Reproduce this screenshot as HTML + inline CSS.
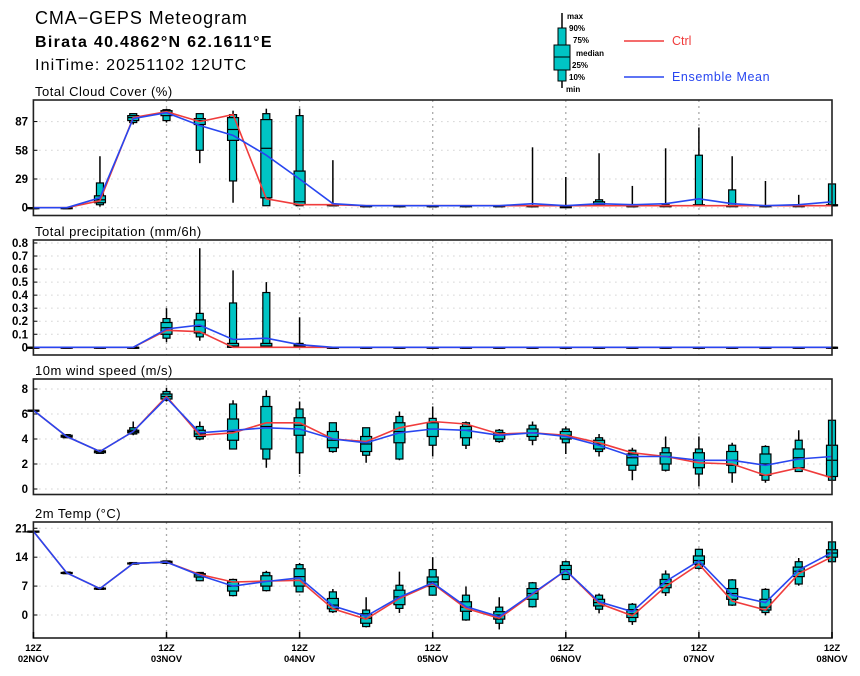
<!DOCTYPE html>
<html><head><meta charset="utf-8"><style>
html,body{margin:0;padding:0;background:#fff;}
svg{display:block;font-family:"Liberation Sans",sans-serif;}
.tk{font-size:11.5px;font-weight:bold;fill:#000;}
.pt{font-size:13px;fill:#000;letter-spacing:0.5px;}
</style></head><body>
<svg id="chart" width="860" height="676" viewBox="0 0 860 676">
<text x="35" y="24" font-size="18" letter-spacing="0.9">CMA−GEPS Meteogram</text>
<text x="35" y="47" font-size="16" font-weight="bold" letter-spacing="1.3">Birata 40.4862°N 62.1611°E</text>
<text x="35" y="70" font-size="16" letter-spacing="1.15">IniTime: 20251102 12UTC</text>
<g>
<line x1="562" y1="13" x2="562" y2="88" stroke="#000" stroke-width="1.5"/>
<rect x="558" y="28" width="8" height="53" fill="#00c4c4" stroke="#000"/>
<rect x="554" y="45" width="16" height="25" fill="#00c4c4" stroke="#000"/>
<line x1="554" y1="57" x2="570" y2="57" stroke="#000"/>
<g font-size="8" font-weight="bold">
<text x="567" y="19">max</text><text x="569" y="31">90%</text><text x="573" y="43">75%</text><text x="576" y="56">median</text><text x="572" y="68">25%</text><text x="569" y="80">10%</text><text x="566" y="92">min</text>
</g></g>
<g><line x1="624" y1="41" x2="664" y2="41" stroke="#f03c3c" stroke-width="1.5"/><text x="672" y="45" font-size="12.5" fill="#f03c3c">Ctrl</text></g>
<g><line x1="624" y1="77" x2="664" y2="77" stroke="#2846f0" stroke-width="1.5"/><text x="672" y="81" font-size="12.5" fill="#2846f0" letter-spacing="0.6">Ensemble Mean</text></g>
<g id="plots"></g>
</svg>
<script>
const dayLabels = ["02NOV","03NOV","04NOV","05NOV","06NOV","07NOV","08NOV"];

// Cloud cover (%)
const cloudMin = [0,0,1,84,86,45,5,2,2,2,2,2,2,2,2,2,1,2,2,2,2,2,2,2,2];
const cloudP10 = [0,0,3,86,88,58,27,2,2,2,2,2,2,2,2,2,1,2,2,2,2,2,2,2,2];
const cloudP25 = [0,0,5,88,93,84,68,10,3,2,2,2,2,2,2,2,1,2,2,2,2,2,2,2,2];
const cloudMed = [0,0,8,91,96,88,79,60,6,3,2,2,2,2,2,2,1,3,2,2,2,2,2,2,2];
const cloudP75 = [0,0,12,93,98,90,91,89,37,3,2,2,2,2,2,2,1,6,2,2,3,2,2,2,3];
const cloudP90 = [0,0,25,95,99,95,94,95,93,3,2,2,2,2,2,2,2,8,2,3,53,18,2,3,24];
const cloudMax = [0,0,52,95,100,95,98,100,100,48,2,2,2,2,2,61,31,55,22,60,81,52,27,13,24];
const cloudCtrl = [0,0,7,91,97,87,94,9,3,3,2,2,2,2,2,2,2,2,2,2,2,2,2,2,2];
const cloudMean = [0,0,10,90,96,83,73,53,29,4,2,2,2,2,2,4,2,4,3,4,9,4,2,3,6];
const cloudTicks = [0,29,58,87];

// Precipitation (mm/6h)
const prMin = [0,0,0,0,0.04,0.05,0,0,0,0,0,0,0,0,0,0,0,0,0,0,0,0,0,0,0];
const prP10 = [0,0,0,0,0.07,0.08,0,0,0,0,0,0,0,0,0,0,0,0,0,0,0,0,0,0,0];
const prP25 = [0,0,0,0,0.10,0.11,0,0,0,0,0,0,0,0,0,0,0,0,0,0,0,0,0,0,0];
const prMed = [0,0,0,0,0.15,0.16,0.01,0.01,0.01,0,0,0,0,0,0,0,0,0,0,0,0,0,0,0,0];
const prP75 = [0,0,0,0,0.19,0.21,0.03,0.03,0.02,0,0,0,0,0,0,0,0,0,0,0,0,0,0,0,0];
const prP90 = [0,0,0,0,0.22,0.26,0.34,0.42,0.03,0,0,0,0,0,0,0,0,0,0,0,0,0,0,0,0];
const prMax = [0,0,0,0,0.30,0.76,0.59,0.50,0.23,0,0,0,0,0,0,0,0,0,0,0,0,0,0,0,0];
const prCtrl = [0,0,0,0,0.13,0.12,0,0,0,0,0,0,0,0,0,0,0,0,0,0,0,0,0,0,0];
const prMean = [0,0,0,0,0.14,0.17,0.06,0.07,0.02,0,0,0,0,0,0,0,0,0,0,0,0,0,0,0,0];
const prTicks = [0,0.1,0.2,0.3,0.4,0.5,0.6,0.7,0.8];

// 10m wind speed (m/s)
const wMin = [6.3,4.1,2.85,4.3,7.0,3.9,3.2,1.7,1.2,2.9,2.1,2.3,2.6,3.2,3.7,3.5,2.8,2.6,0.7,1.4,0.2,0.5,0.5,1.4,0.7];
const wP10 = [6.3,4.1,2.85,4.4,7.1,4.0,3.2,2.4,2.9,3.0,2.7,2.4,3.5,3.5,3.8,3.9,3.7,3.0,1.5,1.5,1.2,1.3,0.7,1.4,0.7];
const wP25 = [6.3,4.15,2.9,4.5,7.2,4.2,3.9,3.2,4.3,3.3,3.0,3.7,4.2,4.1,4.0,4.2,4.0,3.2,1.9,2.0,1.7,1.9,1.1,1.7,1.0];
const wMed = [6.3,4.2,3.0,4.6,7.4,4.4,4.6,5.0,5.1,3.9,3.6,4.6,4.8,4.7,4.3,4.5,4.3,3.6,2.5,2.6,2.3,2.3,2.0,2.5,2.3];
const wP75 = [6.3,4.3,3.05,4.7,7.6,4.7,5.6,6.6,5.7,4.6,4.2,5.3,5.3,5.0,4.5,4.8,4.6,3.9,2.8,2.9,2.9,3.0,2.8,3.2,3.5];
const wP90 = [6.3,4.35,3.1,4.9,7.8,5.0,6.8,7.4,6.4,5.3,4.9,5.8,5.65,5.3,4.7,5.1,4.8,4.1,3.1,3.3,3.2,3.5,3.4,3.9,5.5];
const wMax = [6.3,4.4,3.1,5.4,8.1,5.4,7.1,7.9,7.0,5.3,4.9,6.2,6.6,5.4,4.8,5.4,5.0,4.4,3.3,4.2,4.2,3.7,3.5,4.7,5.5];
const wCtrl = [6.3,4.2,3.0,4.6,7.4,4.3,4.5,5.3,5.3,4.0,3.8,4.9,5.4,5.2,4.4,4.5,4.3,3.7,2.9,2.6,2.1,2.0,1.1,1.7,0.9];
const wMean = [6.3,4.2,3.0,4.6,7.3,4.5,4.7,4.9,4.8,4.0,3.7,4.5,4.8,4.7,4.3,4.5,4.2,3.5,2.6,2.6,2.3,2.3,1.9,2.4,2.6];
const wTicks = [0,2,4,6,8];

// 2m temperature (°C)
const tMin = [20.3,10.0,6.2,12.3,12.5,8.2,4.5,5.7,5.5,0.5,-3.0,0.5,4.7,-1.4,-3.5,1.8,8.4,0.4,-2.4,4.6,11.0,2.2,-0.1,7.1,12.9];
const tP10 = [20.3,10.0,6.2,12.3,12.5,8.3,4.7,5.9,5.6,0.8,-2.8,1.6,4.8,-1.2,-2.0,2.0,8.6,1.4,-1.6,5.4,11.3,2.4,0.6,7.5,12.9];
const tP25 = [20.3,10.1,6.3,12.4,12.6,9.2,5.8,7.0,7.0,1.5,-2.0,2.5,6.9,0.9,-1.0,3.8,9.8,2.2,-0.6,6.6,12.3,3.8,1.2,9.3,14.0];
const tMed = [20.3,10.2,6.4,12.5,12.8,9.7,7.0,8.2,9.3,2.4,-0.8,4.4,8.0,1.9,0.0,5.2,11.0,3.0,0.3,7.6,13.2,5.2,1.9,10.6,15.0];
const tP75 = [20.3,10.3,6.5,12.6,13.0,10.0,8.0,9.5,11.2,4.0,0.3,6.0,9.2,3.2,0.8,6.4,12.0,3.8,1.3,8.6,14.3,6.4,3.8,11.6,15.8];
const tP90 = [20.3,10.4,6.6,12.7,13.1,10.3,8.6,10.3,12.2,5.6,1.2,7.2,11.0,4.8,1.9,7.8,12.9,4.8,2.6,9.9,15.9,8.5,6.2,12.9,17.7];
const tMax = [20.3,10.5,6.6,12.7,13.2,10.4,8.8,10.7,12.6,6.3,4.3,10.5,14.0,6.9,4.3,8.0,13.2,5.2,2.9,10.8,16.1,8.7,6.5,13.8,17.7];
const tCtrl = [20.3,10.2,6.4,12.5,12.8,9.8,8.0,8.2,8.4,1.5,-1.0,4.0,7.6,1.6,-0.8,5.0,10.8,2.8,-0.2,6.9,12.3,3.4,1.2,10.0,14.1];
const tMean = [20.3,10.2,6.4,12.5,12.8,9.6,7.0,8.1,9.0,2.2,-0.3,4.3,7.8,2.0,-0.4,5.2,10.8,3.2,0.8,8.1,13.1,4.8,3.0,10.9,15.1];
const tTicks = [0,7,14,21];

const NS = "http://www.w3.org/2000/svg";
const root = document.getElementById("plots");
const X0 = 33.4, X1 = 832;
const N = 25;
function xAt(i){ return X0 + i*(X1-X0)/(N-1); }
function mk(tag, attrs, parent){
  const e = document.createElementNS(NS, tag);
  for (const k in attrs) e.setAttribute(k, attrs[k]);
  (parent||root).appendChild(e);
  return e;
}

function panel(cfg){
  const g = mk("g", {});
  
  
  const y = v => cfg.y0 - (v - cfg.vmin) * cfg.scale;
  const t = mk("text", {x: 35, y: cfg.top - 4, class: "pt"}, g);
  t.textContent = cfg.title;
  
  
  cfg.ticks.forEach(v => {
    mk("line", {x1: X0, x2: X1, y1: y(v), y2: y(v), stroke: "#bbb", "stroke-width": 1, "stroke-dasharray": "1,5"}, g);
    const lb = mk("text", {x: 28, y: y(v) + 4, class: "tk", "text-anchor": "end"}, g);
    lb.textContent = cfg.fmt ? cfg.fmt(v) : String(v);
    
    
    mk("line", {x1: X0, x2: X0 + 4, y1: y(v), y2: y(v), stroke: "#000"}, g);
  });
  for (let d = 0; d < dayLabels.length; d++) {
    const xx = xAt(d*4);
    if (d > 0 && d < dayLabels.length - 1)
      mk("line", {x1: xx, x2: xx, y1: cfg.top, y2: cfg.bottom, stroke: "#aaa", "stroke-width": 1.3, "stroke-dasharray": "2,4"}, g);
  }
  for (let i = 0; i < N; i++) {
    const xx = xAt(i);
    const bg = mk("g", {}, g);
    
    
    mk("line", {x1: xx, x2: xx, y1: y(cfg.max[i]), y2: y(cfg.min[i]), stroke: "#000", "stroke-width": 1.5}, bg);
    const h1 = y(cfg.p10[i]) - y(cfg.p90[i]);
    mk("rect", {x: xx - 3.5, y: y(cfg.p90[i]), width: 7, height: Math.max(h1, 1), fill: "#00c4c4", stroke: "#000", "stroke-width": 1.2}, bg);
    const h2 = y(cfg.p25[i]) - y(cfg.p75[i]);
    mk("rect", {x: xx - 5.5, y: y(cfg.p75[i]), width: 11, height: Math.max(h2, 1), fill: "#00c4c4", stroke: "#000", "stroke-width": 1.2}, bg);
    mk("line", {x1: xx - 5.5, x2: xx + 5.5, y1: y(cfg.med[i]), y2: y(cfg.med[i]), stroke: "#000", "stroke-width": 1.2}, bg);
  }
  const pts = arr => arr.map((v, i) => xAt(i).toFixed(1) + "," + y(v).toFixed(1)).join(" ");
  const lc = mk("polyline", {points: pts(cfg.ctrl), fill: "none", stroke: "#f03c3c", "stroke-width": 1.6}, g);
  
  
  const lm = mk("polyline", {points: pts(cfg.mean), fill: "none", stroke: "#2846f0", "stroke-width": 1.6}, g);
  
  
  mk("rect", {x: X0, y: cfg.top, width: X1 - X0, height: cfg.bottom - cfg.top, fill: "none", stroke: "#222", "stroke-width": 1.6}, g);
  return y;
}

panel({name: "cloud-cover", title: "Total Cloud Cover (%)", top: 100, bottom: 215.5, y0: 207.7, vmin: 0, scale: 0.99,
  ticks: cloudTicks, min: cloudMin, p10: cloudP10, p25: cloudP25, med: cloudMed, p75: cloudP75, p90: cloudP90, max: cloudMax, ctrl: cloudCtrl, mean: cloudMean});
panel({name: "precipitation", title: "Total precipitation (mm/6h)", top: 240, bottom: 355, y0: 347.3, vmin: 0, scale: 130.4,
  fmt: v => v === 0 ? "0" : v.toFixed(1),
  ticks: prTicks, min: prMin, p10: prP10, p25: prP25, med: prMed, p75: prP75, p90: prP90, max: prMax, ctrl: prCtrl, mean: prMean});
panel({name: "wind-speed", title: "10m wind speed (m/s)", top: 379, bottom: 494.5, y0: 489, vmin: 0, scale: 12.5,
  ticks: wTicks, min: wMin, p10: wP10, p25: wP25, med: wMed, p75: wP75, p90: wP90, max: wMax, ctrl: wCtrl, mean: wMean});
panel({name: "temperature", title: "2m Temp (°C)", top: 522, bottom: 638, y0: 615, vmin: 0, scale: 4.13,
  ticks: tTicks, min: tMin, p10: tP10, p25: tP25, med: tMed, p75: tP75, p90: tP90, max: tMax, ctrl: tCtrl, mean: tMean});

for (let d = 0; d < dayLabels.length; d++) {
  const xx = xAt(d*4);
  mk("line", {x1: xx, x2: xx, y1: 632, y2: 638, stroke: "#000", "stroke-width": 1.5});
  const a = mk("text", {x: xx, y: 651, "text-anchor": "middle", "font-size": 9.5, "font-weight": "bold"});
  a.textContent = "12Z";
  
  
  const b = mk("text", {x: xx, y: 662, "text-anchor": "middle", "font-size": 9.5, "font-weight": "bold"});
  b.textContent = dayLabels[d];
  
  
}
</script>
</body></html>
